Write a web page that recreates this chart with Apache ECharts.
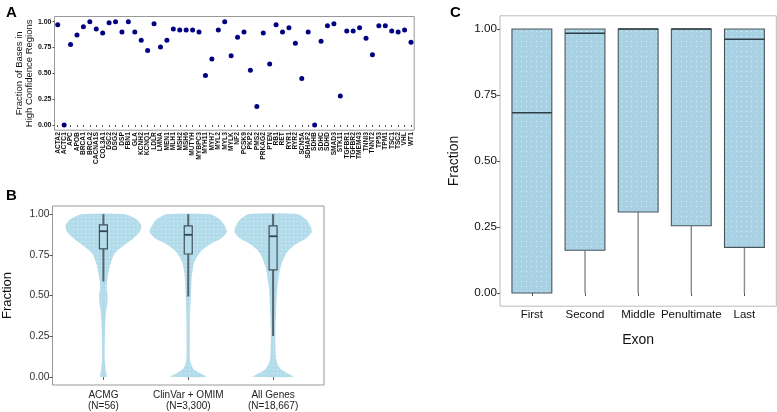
<!DOCTYPE html>
<html><head><meta charset="utf-8">
<script src="https://cdn.jsdelivr.net/npm/echarts@6/dist/echarts.min.js"></script>
<style>html,body{margin:0;padding:0;background:#fff}#c{width:777px;height:412px}</style>
</head><body><div id="c"></div>
<script>
// ---------- Panel A data ----------
const genes = ['ACTA2','ACTC1','APC','APOB','BRCA1','BRCA2','CACNA1S','COL3A1','DSC2','DSG2','DSP','FBN1','GLA','KCNH2','KCNQ1','LDLR','LMNA','MEN1','MLH1','MSH2','MSH6','MUTYH','MYBPC3','MYH11','MYH7','MYL2','MYL3','MYLK','NF2','PCSK9','PKP2','PMS2','PRKAG2','PTEN','RB1','RET','RYR1','RYR2','SCN5A','SDHAF2','SDHB','SDHC','SDHD','SMAD3','STK11','TGFBR1','TGFBR2','TMEM43','TNNI3','TNNT2','TP53','TPM1','TSC1','TSC2','VHL','WT1'];
const geneFraction = [0.97,0.00,0.78,0.87,0.95,1.00,0.93,0.89,0.99,1.00,0.90,1.00,0.90,0.82,0.72,0.98,0.755,0.82,0.93,0.92,0.92,0.92,0.90,0.48,0.64,0.92,1.00,0.67,0.85,0.90,0.53,0.18,0.89,0.59,0.97,0.90,0.94,0.79,0.45,0.90,0.00,0.81,0.96,0.98,0.28,0.91,0.91,0.94,0.84,0.68,0.96,0.96,0.91,0.90,0.92,0.80];

// ---------- Panel B data ----------
const groupNames = ['ACMG\n(N=56)', 'ClinVar + OMIM\n(N=3,300)', 'All Genes\n(N=18,667)'];
const groupPositions = [1, 2, 3];
const violinLevels = [1.00,0.97,0.93,0.89,0.85,0.82,0.78,0.75,0.70,0.65,0.60,0.55,0.50,0.45,0.40,0.30,0.20,0.10,0.05,0.02,0.00];
const violinACMG    = [0.56,0.85,0.98,0.94,0.77,0.60,0.38,0.27,0.19,0.14,0.10,0.085,0.11,0.10,0.07,0.045,0.035,0.035,0.06,0.08,0.08];
const violinClinVar = [0.56,0.81,0.94,1.00,0.85,0.60,0.36,0.26,0.15,0.11,0.085,0.077,0.068,0.06,0.05,0.043,0.043,0.05,0.13,0.32,0.47];
const violinAll     = [0.64,0.84,0.96,1.00,0.85,0.62,0.41,0.32,0.23,0.17,0.14,0.11,0.094,0.085,0.077,0.06,0.06,0.085,0.19,0.38,0.53];
// [low whisker, q1, median, q3, high whisker]
const boxACMG    = [0.586, 0.786, 0.895, 0.934, 1.00];
const boxClinVar = [0.494, 0.755, 0.873, 0.928, 1.00];
const boxAll     = [0.251, 0.657, 0.864, 0.928, 1.00];

// ---------- Panel C data ----------
const exonNames = ['First', 'Second', 'Middle', 'Penultimate', 'Last'];
const exonPositions = [1, 2, 3, 4, 5];
const exonLow    = [0.00, 0.00, 0.00, 0.00, 0.00];
const exonQ1     = [0.00, 0.162, 0.307, 0.255, 0.173];
const exonMedian = [0.683, 0.984, 1.00, 1.00, 0.961];
const exonQ3     = [1.00, 1.00, 1.00, 1.00, 1.00];
const exonHigh   = [1.00, 1.00, 1.00, 1.00, 1.00];

const fractionTicks = [0, 0.25, 0.5, 0.75, 1];

// ---------- build ----------
function makePattern(base, dot, size) {
  const c = document.createElement('canvas');
  c.width = size; c.height = size;
  const g = c.getContext('2d');
  g.fillStyle = base; g.fillRect(0, 0, size, size);
  g.fillStyle = dot; g.fillRect(1, 1, 1, 1);
  return { image: c, repeat: 'repeat' };
}
const violinFill = makePattern('#b4dbe9', 'rgba(255,255,255,0.55)', 4);
const boxFillC = makePattern('#a8d1e4', 'rgba(255,255,255,0.55)', 5);

const violinProfiles = [violinACMG, violinClinVar, violinAll];
const boxesB = [boxACMG, boxClinVar, boxAll];
const FONT = 'Liberation Sans, Arial, sans-serif';

const violinData = groupPositions.map((p, i) => [p, i]);
const boxBData = groupPositions.map((p, i) => [p].concat(boxesB[i]));
const boxCData = exonPositions.map((p, i) => [p, exonLow[i], exonQ1[i], exonMedian[i], exonQ3[i], exonHigh[i]]);

function renderViolin(params, api) {
  const x = api.value(0), gi = api.value(1);
  const prof = violinProfiles[gi];
  const half = 0.455;
  const left = [], right = [];
  for (let k = 0; k < violinLevels.length; k++) {
    left.push(api.coord([x - prof[k] * half, violinLevels[k]]));
    right.push(api.coord([x + prof[k] * half, violinLevels[k]]));
  }
  const pts = left.concat(right.reverse());
  return { type: 'polygon', shape: { points: pts, smooth: 0.25 }, style: { fill: violinFill, stroke: null } };
}

function makeBoxRenderer(halfW, o) {
  return function (params, api) {
    const x = api.value(0);
    const lo = api.value(1), q1 = api.value(2), md = api.value(3), q3 = api.value(4), hi = api.value(5);
    const pLo = api.coord([x, lo]), pQ1 = api.coord([x, q1]), pQ3 = api.coord([x, q3]), pHi = api.coord([x, hi]);
    const l = api.coord([x - halfW, md])[0], r = api.coord([x + halfW, md])[0];
    const pMd = api.coord([x, md]);
    const children = [];
    if (pLo[1] - pQ1[1] > 0.5) children.push({ type: 'line', shape: { x1: pLo[0], y1: pLo[1], x2: pQ1[0], y2: pQ1[1] }, style: { stroke: o.whisker, lineWidth: o.whiskerW } });
    if (pQ3[1] - pHi[1] > 0.5) children.push({ type: 'line', shape: { x1: pQ3[0], y1: pQ3[1], x2: pHi[0], y2: pHi[1] }, style: { stroke: o.whisker, lineWidth: o.whiskerW } });
    children.push({ type: 'rect', shape: { x: l, y: pQ3[1], width: r - l, height: pQ1[1] - pQ3[1] }, style: { fill: o.fill, stroke: o.stroke, lineWidth: o.strokeW } });
    children.push({ type: 'line', shape: { x1: l, y1: pMd[1], x2: r, y2: pMd[1] }, style: { stroke: o.median, lineWidth: o.medianW } });
    return { type: 'group', children };
  };
}

function fracAxis(gridIndex, fontSize, color, weight, name, nameGap, nameSize, tickLen) {
  return {
    type: 'value', gridIndex, min: -0.05, max: 1.05,
    axisLine: { show: false },
    splitLine: { show: false },
    axisTick: { show: true, customValues: fractionTicks, length: tickLen, lineStyle: { color: '#555' } },
    axisLabel: { customValues: fractionTicks, formatter: v => v.toFixed(2), fontSize, color, fontWeight: weight, fontFamily: FONT, margin: 3 },
    name, nameLocation: 'middle', nameGap, nameTextStyle: { fontSize: nameSize, color: '#111', fontFamily: FONT, lineHeight: nameSize + 0.5 }
  };
}

const option = {
  animation: false,
  backgroundColor: '#fff',
  title: [
    { text: 'A', left: 1, top: 0, textStyle: { fontSize: 15, fontWeight: 'bold', color: '#000', fontFamily: FONT } },
    { text: 'B', left: 1, top: 183, textStyle: { fontSize: 15, fontWeight: 'bold', color: '#000', fontFamily: FONT } },
    { text: 'C', left: 445, top: 0, textStyle: { fontSize: 15, fontWeight: 'bold', color: '#000', fontFamily: FONT } }
  ],
  grid: [
    { left: 54.5, top: 16.5, width: 359.7, height: 113.7, show: true, borderColor: '#999', borderWidth: 1, backgroundColor: 'transparent' },
    { left: 49.3, top: 206, width: 274.7, height: 179, show: true, borderColor: '#999', borderWidth: 1, backgroundColor: 'transparent' },
    { left: 500, top: 15.8, width: 276.3, height: 290.4, show: true, borderColor: '#bbb', borderWidth: 1, backgroundColor: 'transparent' }
  ],
  xAxis: [
    { type: 'category', gridIndex: 0, data: genes, boundaryGap: true,
      axisLine: { show: false },
      axisTick: { show: true, interval: 0, alignWithLabel: true, length: 2, lineStyle: { color: '#555' } },
      axisLabel: { interval: 0, rotate: 90, fontSize: 6.6, fontWeight: 'bold', color: '#111', fontFamily: FONT, margin: 2 } },
    { type: 'value', gridIndex: 1, min: 0.4, max: 3.6,
      axisLine: { show: false }, splitLine: { show: false },
      axisTick: { show: true, customValues: groupPositions, length: 3, lineStyle: { color: '#555' } },
      axisLabel: { customValues: groupPositions, formatter: v => groupNames[Math.round(v) - 1], fontSize: 10, color: '#222', fontFamily: FONT, lineHeight: 11, margin: 5 } },
    { type: 'value', gridIndex: 2, min: 0.4, max: 5.6,
      axisLine: { show: false }, splitLine: { show: false },
      axisTick: { show: true, customValues: exonPositions, length: 3, lineStyle: { color: '#555' } },
      axisLabel: { customValues: exonPositions, formatter: v => exonNames[Math.round(v) - 1], fontSize: 11.5, color: '#111', fontFamily: FONT, margin: 3 },
      name: 'Exon', nameLocation: 'middle', nameGap: 27, nameTextStyle: { fontSize: 14, color: '#111', fontFamily: FONT } }
  ],
  yAxis: [
    fracAxis(0, 7, '#111', 'bold', 'Fraction of Bases in\nHigh Confidence Regions', 17, 9.5, 2),
    fracAxis(1, 10.3, '#333', 'normal', 'Fraction', 38, 13, 3),
    fracAxis(2, 11.7, '#111', 'normal', 'Fraction', 39, 14, 3)
  ],
  series: [
    { type: 'scatter', xAxisIndex: 0, yAxisIndex: 0, data: geneFraction, symbolSize: 5, itemStyle: { color: '#000080', opacity: 1 } },
    { type: 'custom', xAxisIndex: 1, yAxisIndex: 1, data: violinData, renderItem: renderViolin, encode: { x: 0 } },
    { type: 'custom', xAxisIndex: 1, yAxisIndex: 1, data: boxBData, encode: { x: 0, y: [1, 2, 3, 4, 5] },
      renderItem: makeBoxRenderer(0.047, { whisker: '#56656e', whiskerW: 2, fill: 'rgba(180,219,233,0.6)', stroke: '#3e525c', strokeW: 1.2, median: '#33454f', medianW: 1.8 }) },
    { type: 'custom', xAxisIndex: 2, yAxisIndex: 2, data: boxCData, encode: { x: 0, y: [1, 2, 3, 4, 5] },
      renderItem: makeBoxRenderer(0.375, { whisker: '#8a8a8a', whiskerW: 1.4, fill: boxFillC, stroke: '#48555c', strokeW: 1.1, median: '#2f3d45', medianW: 1.5 }) }
  ]
};
const chart = echarts.init(document.getElementById('c'), null, { renderer: 'canvas' });
chart.setOption(option);
</script></body></html>
